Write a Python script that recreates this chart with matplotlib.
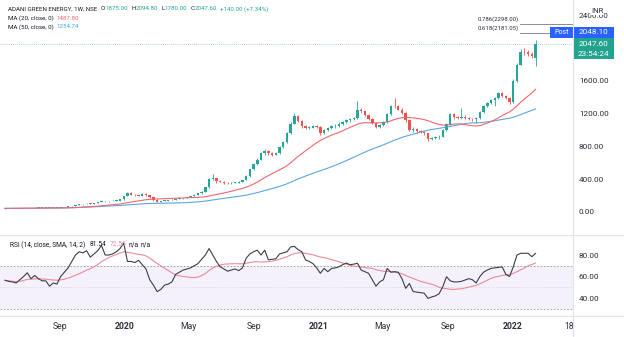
import matplotlib
matplotlib.use('Agg')
import matplotlib.pyplot as plt
import matplotlib.dates as mdates
from matplotlib.lines import Line2D
from matplotlib.patches import Rectangle
import numpy as np
import pandas as pd

# ---------------- data ----------------
first_week = '2019-05-20'
opens = [43, 44, 45, 46, 45, 47, 48, 50, 48, 50, 49, 51, 52, 50, 52, 53, 58, 62, 68, 75,
         84, 92, 95, 103, 100, 108, 118, 135, 130, 132, 138, 140, 155, 195, 232, 210, 205, 200, 222, 205,
         180, 150, 128, 135, 140, 145, 152, 160, 165, 172, 182, 195, 210, 228, 250, 300, 400, 410, 380, 372,
         360, 352, 355, 360, 372, 390, 440, 520, 585, 640, 725, 740, 715, 700, 720, 790, 850, 960, 1080, 1175,
         1110, 1045, 1030, 1030, 1045, 1040, 960, 1000, 1020, 1050, 1050, 1080, 1100, 1120, 1140, 1145, 1250, 1230, 1190, 1140,
         1090, 1040, 1060, 1100, 1200, 1300, 1290, 1250, 1215, 1120, 1000, 1010, 990, 975, 960, 890, 905, 910, 920, 1000,
         1070, 1200, 1160, 1150, 1165, 1150, 1140, 1130, 1150, 1220, 1300, 1330, 1370, 1390, 1450, 1420, 1390, 1340, 1600, 1800,
         1960, 1950, 1925, 1875]
highs = [46, 46, 47, 47, 48, 49, 51, 51, 51, 51, 52, 53, 53, 53, 55, 60, 64, 70, 77, 86,
         95, 98, 106, 107, 111, 121, 140, 138, 136, 141, 145, 160, 200, 245, 240, 218, 212, 228, 226, 208,
         184, 156, 140, 144, 149, 156, 163, 169, 176, 186, 199, 214, 232, 256, 310, 420, 460, 418, 392, 380,
         368, 362, 366, 378, 396, 450, 530, 600, 655, 735, 770, 752, 728, 730, 805, 865, 975, 1095, 1215, 1190,
         1125, 1060, 1050, 1060, 1065, 1050, 1015, 1035, 1065, 1070, 1095, 1115, 1135, 1150, 1165, 1350, 1275, 1240, 1200, 1150,
         1100, 1070, 1110, 1210, 1310, 1394, 1310, 1270, 1225, 1130, 1040, 1030, 1005, 990, 970, 920, 925, 935, 1010, 1085,
         1215, 1215, 1175, 1270, 1180, 1165, 1150, 1165, 1230, 1310, 1345, 1385, 1400, 1460, 1465, 1430, 1400, 1620, 1820, 1990,
         2000, 1975, 1950, 2094.8]
lows = [42, 43, 44, 44, 44, 46, 47, 47, 47, 48, 48, 50, 49, 49, 51, 52, 56, 60, 66, 73,
        82, 88, 93, 97, 98, 106, 116, 126, 126, 129, 134, 138, 152, 192, 205, 198, 195, 197, 200, 175,
        140, 118, 124, 130, 136, 141, 148, 156, 161, 169, 179, 191, 206, 224, 246, 296, 385, 360, 365, 345,
        342, 345, 348, 354, 366, 385, 432, 510, 575, 630, 700, 700, 680, 690, 712, 780, 840, 950, 1070, 1095,
        1030, 1010, 1015, 1020, 1020, 940, 950, 985, 1010, 1030, 1040, 1065, 1090, 1105, 1125, 1140, 1210, 1175, 1125, 1080,
        1020, 1025, 1050, 1090, 1190, 1270, 1240, 1200, 1100, 985, 975, 970, 960, 940, 870, 875, 890, 895, 910, 990,
        1060, 1140, 1130, 1140, 1135, 1120, 1110, 1090, 1140, 1210, 1285, 1315, 1300, 1380, 1405, 1375, 1320, 1330, 1590, 1790,
        1920, 1900, 1880, 1780]
closes = [44, 45, 46, 45, 47, 48, 50, 48, 50, 49, 51, 52, 50, 52, 53, 58, 62, 68, 75, 84,
          92, 95, 103, 100, 108, 118, 135, 130, 132, 138, 140, 155, 195, 232, 210, 205, 200, 222, 205, 180,
          150, 128, 135, 140, 145, 152, 160, 165, 172, 182, 195, 210, 228, 250, 300, 400, 410, 380, 372, 360,
          352, 355, 360, 372, 390, 440, 520, 585, 640, 725, 740, 715, 700, 720, 790, 850, 960, 1080, 1175, 1110,
          1045, 1030, 1030, 1045, 1040, 960, 1000, 1020, 1050, 1050, 1080, 1100, 1120, 1140, 1145, 1250, 1230, 1190, 1140, 1090,
          1040, 1060, 1100, 1200, 1300, 1290, 1250, 1215, 1120, 1000, 1010, 990, 975, 960, 890, 905, 910, 920, 1000, 1070,
          1200, 1160, 1150, 1165, 1150, 1140, 1130, 1150, 1220, 1300, 1330, 1370, 1390, 1450, 1420, 1390, 1340, 1600, 1800, 1960,
          1950, 1925, 1907.6, 2047.6]
rsi = [56.5, 55.5, 55, 54, 57, 60, 63.5, 58, 61, 58, 56, 56, 51, 54, 53, 60, 64, 68, 74, 80,
       83, 82, 84, 78, 81, 84, 89, 80, 80, 81, 83, 86, 91, 74, 74, 73, 75, 71, 67, 57,
       52, 46, 48, 52, 53, 55, 62, 64, 66, 67, 68, 70, 72, 76, 80, 86, 80, 74, 69, 67,
       65, 66, 67, 65.5, 68, 77, 81, 83, 84.5, 80, 84.5, 75.5, 76, 76.5, 81, 82, 83, 87.5, 88, 85,
       83, 75.5, 74, 72, 68, 63, 67.5, 64.5, 67.5, 68, 69, 71, 72.5, 71, 71.5, 72.3, 66, 64.5, 63, 57,
       51, 55, 57, 67.5, 64, 64.5, 64, 58, 49, 53.5, 46, 45.5, 45, 44.5, 39.7, 41, 42, 44, 50.5, 59.8,
       56, 55, 55, 55.5, 56.7, 58, 57, 54, 60, 64, 66, 67.6, 68, 68.5, 69, 62, 60, 69, 80, 81.6,
       81.6, 81.6, 78.4, 81.54]
price_ticks = [0, 400, 800, 1200, 1600, 2400]
rsi_ticks = [40, 60, 80]
x_tick_dates = ['2019-09-01', '2020-01-01', '2020-05-01', '2020-09-01', '2021-01-01',
                '2021-05-01', '2021-09-01', '2022-01-01', '2022-04-18']
x_tick_labels = ['Sep', '2020', 'May', 'Sep', '2021', 'May', 'Sep', '2022', '18']
fib_levels = [(0.786, 2298.00), (0.618, 2181.05)]
ma20_last, ma50_last = 1487.80, 1254.74
rsi_last, rsi_ma_last = 81.54, 72.56
post_price = 2048.10
countdown = '23:54:24'

# ---------------- figure ----------------
W, H = 624, 337
FONT = ['Roboto', 'DejaVu Sans']
plt.rcParams['font.family'] = FONT
fig = plt.figure(figsize=(W / 100, H / 100), dpi=100)
fig.patch.set_facecolor('white')

def px_axes(x0, y0, x1, y1):
    return fig.add_axes([x0 / W, 1 - y1 / H, (x1 - x0) / W, (y1 - y0) / H])

UP, DOWN = '#26a69a', '#ef5350'
TXT = '#131722'
AX_TXT = '#2a2e39'
MA20_C, MA50_C = '#f0666e', '#5aa7de'
RSI_MA_C = '#ea8a98'

dates = pd.date_range(first_week, periods=len(closes), freq='W-MON')
xd = mdates.date2num(dates)
o = np.array(opens, float); h = np.array(highs, float)
l = np.array(lows, float); c = np.array(closes, float)
colors = [UP if cc >= oo else DOWN for oo, cc in zip(o, c)]

ma20 = pd.Series(c).rolling(20, min_periods=1).mean()
ma50 = pd.Series(c).rolling(50, min_periods=1).mean()
rsi_s = pd.Series(rsi, dtype=float)
rsi_ma = rsi_s.rolling(14, min_periods=1).mean()

xleft = xd[0] - 1.35 * 7
xright = xd[0] + 153.1 * 7

ax = px_axes(0, 0, 573, 235)
ax.set_xlim(xleft, xright)
ax.set_ylim(-281, 2589)
for s in ax.spines.values():
    s.set_visible(False)
ax.set_xticks([])
ax.yaxis.tick_right()
ax.set_yticks(price_ticks)
ax.set_yticklabels([f'{v:.2f}' for v in price_ticks])
ax.tick_params(axis='y', length=0, pad=4.3, labelsize=5.9, labelcolor=AX_TXT)

ax.axhline(c[-1], color=UP, lw=0.6, ls=(0, (1, 1.5)), alpha=0.6)
ax.plot(xd, ma50, color=MA50_C, lw=0.8)
ax.plot(xd, ma20, color=MA20_C, lw=0.8)
ax.vlines(xd, l, h, colors=colors, lw=0.6)
body_lo = np.minimum(o, c)
body_h = np.maximum(np.abs(c - o), 6)
ax.bar(xd, body_h, bottom=body_lo, width=4.6, color=colors, linewidth=0)

# fib lines
for lvl, price in fib_levels:
    ax.plot([xd[-1] - 4.3 * 7, xright], [price, price], color='#787b86', lw=0.6)
    ax.text(xd[-1] - 4.6 * 7, price + 25, f'{lvl}({price:.2f})', fontsize=4.3,
            color=AX_TXT, ha='right', va='bottom')

# ---------------- RSI pane ----------------
rx = px_axes(0, 235, 573, 316)
rx.set_xlim(xleft, xright)
rx.set_ylim(23.3, 98.6)
for s in rx.spines.values():
    s.set_visible(False)
rx.axhspan(30, 70, color='#7e57c2', alpha=0.08, lw=0)
rx.axhline(70, color='#9598a1', lw=0.6, ls=(0, (2, 2)))
rx.axhline(30, color='#9598a1', lw=0.6, ls=(0, (2, 2)))
rx.axhline(50, color='#c4c6cc', lw=0.5, ls=(0, (1, 2)))
rx.plot(xd, rsi_ma, color=RSI_MA_C, lw=0.8)
rx.plot(xd, rsi_s, color='#3b3e48', lw=0.8)
rx.yaxis.tick_right()
rx.set_yticks(rsi_ticks)
rx.set_yticklabels([f'{v:.2f}' for v in rsi_ticks])
rx.tick_params(axis='y', length=0, pad=4.3, labelsize=5.9, labelcolor=AX_TXT)
tick_pos = mdates.date2num(pd.to_datetime(x_tick_dates))
rx.set_xticks(tick_pos)
rx.set_xticklabels(x_tick_labels)
rx.tick_params(axis='x', length=0, pad=4.5, labelsize=6.2, labelcolor=AX_TXT)
for lab in rx.get_xticklabels():
    t = lab.get_text()
    if t.isdigit() and len(t) == 4:
        lab.set_fontweight('bold')

# ---------------- separators ----------------
sep = '#e0e3eb'
fig.add_artist(Line2D([0, 1], [1 - 235 / H, 1 - 235 / H], color=sep, lw=0.8))
fig.add_artist(Line2D([0, 1], [1 - 316 / H, 1 - 316 / H], color=sep, lw=0.8))
fig.add_artist(Line2D([573 / W, 573 / W], [0, 1], color=sep, lw=0.8))

# ---------------- overlay texts ----------------
renderer = fig.canvas.get_renderer()

def ftext(x, y, s, **kw):
    kw.setdefault('fontsize', 4.4)
    kw.setdefault('va', 'center')
    return fig.text(x / W, 1 - y / H, s, **kw)

def chain(x0, y, parts, size=4.4):
    xx = x0
    for s, col, gap in parts:
        t = ftext(xx, y, s, color=col, fontsize=size, ha='left')
        xx += t.get_window_extent(renderer=renderer).width + gap
    return xx

chg = closes[-1] - closes[-2]
pct = chg / closes[-2] * 100
chain(8, 9, [('ADANI GREEN ENERGY, 1W, NSE', TXT, 3.5),
             ('O', TXT, 0.4), (f'{opens[-1]:.2f}', UP, 3),
             ('H', TXT, 0.4), (f'{highs[-1]:.2f}', UP, 3),
             ('L', TXT, 0.4), (f'{lows[-1]:.2f}', UP, 3),
             ('C', TXT, 0.4), (f'{closes[-1]:.2f}', UP, 3),
             (f'+{chg:.2f} (+{pct:.2f}%)', UP, 0)])
chain(8, 18, [('MA (20, close, 0)', TXT, 2.5), (f'{ma20_last:.2f}', MA20_C, 0)])
chain(8, 27, [('MA (50, close, 0)', TXT, 2.5), (f'{ma50_last:.2f}', '#42a5f5', 0)])
chain(10, 245, [('RSI (14, close, SMA, 14, 2)', TXT, 4), (f'{rsi_last:.2f}', TXT, 4),
                (f'{rsi_ma_last:.2f}', RSI_MA_C, 2), ('n/a', TXT, 2), ('n/a', TXT, 0)], size=4.8)

# price-axis badges
fig.add_artist(Rectangle((550 / W, 1 - 37.5 / H), 23 / W, 10 / H, color='#2962ff', lw=0))
ftext(561.5, 32.5, 'Post', color='white', fontsize=5.0, ha='center')
fig.add_artist(Rectangle((573 / W, 1 - 37.5 / H), 41 / W, 10 / H, color='#2962ff', lw=0))
ftext(593.5, 32.5, f'{post_price:.2f}', color='white', fontsize=5.9, ha='center')
fig.add_artist(Rectangle((573 / W, 1 - 59 / H), 41 / W, 21 / H, color='#22a38f', lw=0))
ftext(593.5, 43.5, f'{closes[-1]:.2f}', color='white', fontsize=5.9, ha='center')
ftext(593.5, 53.5, countdown, color='white', fontsize=5.9, ha='center')
ftext(597, 11, 'INR', color=AX_TXT, fontsize=5.6, ha='center',
      bbox=dict(facecolor='white', edgecolor='none', pad=0.8))

fig.savefig('out.png', dpi=100, facecolor='white')
